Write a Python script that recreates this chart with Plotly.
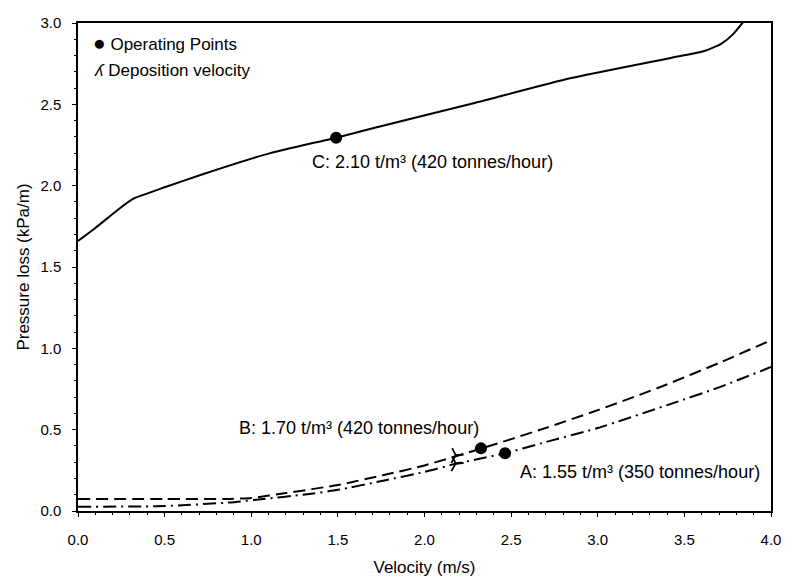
import plotly.graph_objects as go

# Curve C: 2.10 t/m3 (420 t/h) - solid
vel_c = [0.0, 0.1, 0.24, 0.32, 0.5, 0.72, 1.11, 1.49, 1.69, 2.26, 2.84, 3.42, 3.61, 3.71, 3.78, 3.85]
dp_c = [1.66, 1.74, 1.86, 1.92, 1.99, 2.07, 2.20, 2.295, 2.35, 2.50, 2.66, 2.785, 2.826, 2.87, 2.93, 3.02]

# Curve B: 1.70 t/m3 (420 t/h) - dashed
vel_b = [0.0, 0.5, 0.88, 1.0, 1.2, 1.5, 1.76, 2.0, 2.33, 2.67, 3.0, 3.38, 3.7, 4.0]
dp_b = [0.074, 0.074, 0.074, 0.08, 0.11, 0.16, 0.22, 0.28, 0.385, 0.50, 0.62, 0.77, 0.91, 1.05]

# Curve A: 1.55 t/m3 (350 t/h) - dash-dot
vel_a = [0.0, 0.5, 0.88, 1.07, 1.3, 1.5, 1.76, 2.0, 2.18, 2.465, 2.7, 3.0, 3.44, 3.7, 4.0]
dp_a = [0.026, 0.03, 0.053, 0.074, 0.10, 0.13, 0.186, 0.24, 0.29, 0.355, 0.424, 0.51, 0.665, 0.76, 0.885]

# Operating points (C, B, A)
op_vel = [1.49, 2.326, 2.465]
op_dp = [2.295, 0.385, 0.355]

# Deposition velocity markers (B, A)
dep_vel = [2.18, 2.18]
dep_dp = [0.343, 0.292]

x_ticks = [0.0, 0.5, 1.0, 1.5, 2.0, 2.5, 3.0, 3.5, 4.0]
y_ticks = [0.0, 0.5, 1.0, 1.5, 2.0, 2.5, 3.0]

labels = ["C: 2.10 t/m³ (420 tonnes/hour)",
          "B: 1.70 t/m³ (420 tonnes/hour)",
          "A: 1.55 t/m³ (350 tonnes/hour)"]
label_x = [1.34, 0.92, 2.54]
label_y = [2.147, 0.51, 0.24]

legend_texts = ["Operating Points", "Deposition velocity"]

FONT = "Liberation Sans, Arial, sans-serif"

fig = go.Figure()
fig.add_trace(go.Scatter(x=vel_c, y=dp_c, mode="lines",
                         line=dict(color="black", width=2, shape="spline", smoothing=0.5),
                         showlegend=False))
fig.add_trace(go.Scatter(x=vel_b, y=dp_b, mode="lines",
                         line=dict(color="black", width=2, dash="12px,6px", shape="spline", smoothing=0.5),
                         showlegend=False))
fig.add_trace(go.Scatter(x=vel_a, y=dp_a, mode="lines",
                         line=dict(color="black", width=2, dash="13px,5px,2px,5px", shape="spline", smoothing=0.5),
                         showlegend=False))
fig.add_trace(go.Scatter(x=op_vel, y=op_dp, mode="markers",
                         marker=dict(color="black", size=12, symbol="circle"), showlegend=False))
fig.add_trace(go.Scatter(x=dep_vel, y=dep_dp, mode="markers",
                         marker=dict(symbol="y-down-open", size=11, angle=30, color="black",
                                     line=dict(color="black", width=1.8)),
                         showlegend=False))

for t, lx, ly in zip(labels, label_x, label_y):
    fig.add_annotation(x=lx, y=ly, xref="x", yref="y", text=t, showarrow=False,
                       xanchor="left", yanchor="middle",
                       font=dict(family=FONT, size=18, color="black"))

fig.add_annotation(x=0.075, y=2.88, xref="x", yref="y",
                   text="<span style='font-size:21px'>●</span> " + legend_texts[0],
                   showarrow=False, xanchor="left", yanchor="middle",
                   font=dict(family=FONT, size=17, color="black"))
fig.add_annotation(x=0.08, y=2.706, xref="x", yref="y",
                   text="<i>ʎ</i> " + legend_texts[1],
                   showarrow=False, xanchor="left", yanchor="middle",
                   font=dict(family=FONT, size=17, color="black"))

fig.update_xaxes(range=[0, 4], tickvals=x_ticks, ticktext=[f"{v:.1f}" for v in x_ticks],
                 showline=True, linecolor="black", linewidth=1.5, mirror=True,
                 ticks="outside", ticklen=4, tickcolor="black",
                 minor=dict(ticks="outside", ticklen=2, tickcolor="black", dtick=0.1),
                 showgrid=False, zeroline=False, ticklabelstandoff=10, automargin=False,
                 tickfont=dict(family=FONT, size=15, color="black"),
                 title=dict(text="Velocity (m/s)", standoff=14,
                            font=dict(family=FONT, size=17, color="black")))
fig.update_yaxes(range=[0, 3], tickvals=y_ticks, ticktext=[f"{v:.1f}" for v in y_ticks],
                 showline=True, linecolor="black", linewidth=1.5, mirror=True,
                 ticks="outside", ticklen=4, tickcolor="black",
                 minor=dict(ticks="outside", ticklen=2, tickcolor="black", dtick=0.1),
                 showgrid=False, zeroline=False, ticklabelstandoff=8, automargin=False,
                 tickfont=dict(family=FONT, size=15, color="black"),
                 title=dict(text="Pressure loss (kPa/m)", standoff=6,
                            font=dict(family=FONT, size=17, color="black")))

fig.update_layout(width=786, height=577, margin=dict(l=78, r=15, t=23, b=66),
                  paper_bgcolor="white", plot_bgcolor="white")

fig.write_html("out.html")
